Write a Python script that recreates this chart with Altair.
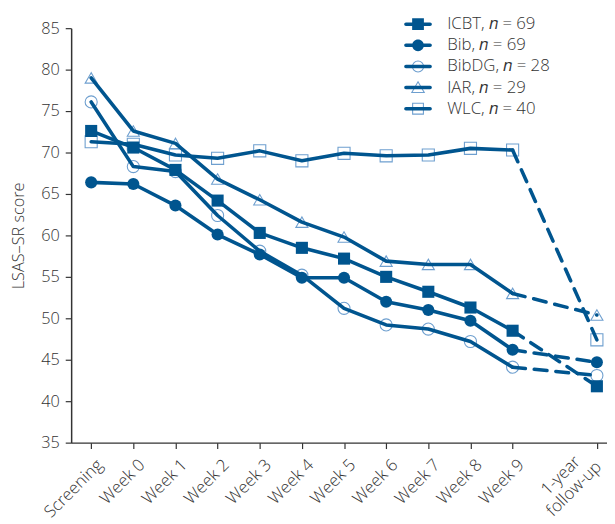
import altair as alt
import pandas as pd

# ---------------- data ----------------
GROUPS = ["ICBT", "Bib", "BibDG", "IAR", "WLC"]
N_SIZES = [69, 69, 28, 29, 40]
X_POS = [0, 1, 2, 3, 4, 5, 6, 7, 8, 9, 10, 12]
X_LABELS = ["Screening", "Week 0", "Week 1", "Week 2", "Week 3", "Week 4",
            "Week 5", "Week 6", "Week 7", "Week 8", "Week 9", "\n1-year\nfollow-up"]

ICBT = [72.6, 70.6, 67.9, 64.2, 60.3, 58.5, 57.2, 55.0, 53.2, 51.3, 48.5, 41.8]
BIB = [66.4, 66.2, 63.6, 60.1, 57.7, 54.9, 54.9, 52.0, 51.0, 49.7, 46.2, 44.7]
BIBDG = [76.1, 68.3, 67.7, 62.4, 58.1, 55.2, 51.2, 49.2, 48.7, 47.2, 44.1, 43.1]
IAR = [79.0, 72.6, 71.1, 66.8, 64.3, 61.6, 59.8, 56.9, 56.5, 56.5, 53.0, 50.4]
WLC = [71.3, 71.0, 69.7, 69.3, 70.2, 69.0, 69.9, 69.6, 69.7, 70.5, 70.3, 47.4]
SERIES = [ICBT, BIB, BIBDG, IAR, WLC]

Y_TICKS = [35, 40, 45, 50, 55, 60, 65, 70, 75, 80, 85]

# ---------------- styling ----------------
DARK = "#00558f"
LIGHT = "#6e9fcf"
FONT = "Open Sans"
FW = 300
TXT = "#333333"

LABELS = [f"{g}, \U0001D45B = {n}" for g, n in zip(GROUPS, N_SIZES)]
FILLED = ["ICBT", "Bib"]
OPEN = ["BibDG", "IAR", "WLC"]

rows = []
for g, lab, vals in zip(GROUPS, LABELS, SERIES):
    for x, v in zip(X_POS, vals):
        rows.append({"group": g, "label": lab, "x": x, "y": v})
df = pd.DataFrame(rows)

# label expression built from the label list
arr = [""] * (max(X_POS) + 1)
for p, l in zip(X_POS, X_LABELS):
    if "\n" in l:
        arr[p] = "[" + ",".join("'" + s + "'" for s in l.split("\n")) + "]"
    else:
        arr[p] = "'" + l + "'"
label_expr = "[" + ",".join(a if a else "''" for a in arr) + "][datum.value]"
LAST = X_POS[-1]

x_axis = alt.Axis(
    values=X_POS, labelExpr=label_expr, labelAngle=-45,
    labelAlign=alt.condition(f"datum.value == {LAST}", alt.value("center"), alt.value("right")),
    labelOffset=alt.condition(f"datum.value == {LAST}", alt.value(-56), alt.value(3)),
    labelBaseline="top", tickSize=6, labelPadding=8,
    grid=False, title=None, labelFont=FONT, labelFontSize=17, labelFontWeight=FW,
    labelColor=TXT, domainColor=TXT, tickColor=TXT, domainWidth=1.5,
    tickWidth=1.2, labelOverlap=False, labelFlush=False)
y_axis = alt.Axis(values=Y_TICKS, tickSize=6, labelPadding=6, grid=False,
                  title="LSAS\u2013SR score", titleFont=FONT, titleFontSize=16.5,
                  titleFontWeight=FW, titleColor=TXT, titlePadding=14,
                  labelFont=FONT, labelFontSize=16.5, labelFontWeight=FW, labelColor=TXT,
                  domainColor=TXT, tickColor=TXT, domainWidth=1.5, tickWidth=1.2)

x_enc = alt.X("x:Q", scale=alt.Scale(domain=[-0.475, 12.24], nice=False, zero=False), axis=x_axis)
y_enc = alt.Y("y:Q", scale=alt.Scale(domain=[35, 85], nice=False, zero=False), axis=y_axis)

base = alt.Chart(df)

open_pts = base.transform_filter(
    alt.FieldOneOfPredicate(field="group", oneOf=OPEN)
).mark_point(filled=False, color=LIGHT, strokeWidth=1.1, size=150, opacity=1).encode(
    x=x_enc, y=y_enc,
    shape=alt.Shape("group:N", scale=alt.Scale(domain=OPEN, range=["circle", "triangle-up", "square"]),
                    legend=None),
)

solid = base.transform_filter("datum.x <= 10").mark_line(
    color=DARK, strokeWidth=3.6, strokeCap="round", strokeJoin="round"
).encode(x=x_enc, y=y_enc, detail="group:N", order="x:Q")

dashed = base.transform_filter("datum.x >= 10").mark_line(
    color=DARK, strokeWidth=3.6, strokeCap="round", strokeDash=[13, 9]
).encode(x=x_enc, y=y_enc, detail="group:N", order="x:Q")

filled_pts = base.transform_filter(
    alt.FieldOneOfPredicate(field="group", oneOf=FILLED)
).mark_point(filled=True, color=DARK, size=150, opacity=1, strokeWidth=0).encode(
    x=x_enc, y=y_enc,
    shape=alt.Shape("group:N", scale=alt.Scale(domain=FILLED, range=["square", "circle"]),
                    legend=None),
)

# legend symbols (unit paths, scaled by symbol size)
LINE = "M-1.75,-0.25H1.75A0.25,0.25 0 0 1 1.75,0.25H-1.75A0.25,0.25 0 0 1 -1.75,-0.25Z"
SQ_F = "M-0.85,-0.85H0.85V0.85H-0.85Z"
CI_F = "M-0.85,0A0.85,0.85 0 1 1 0.85,0A0.85,0.85 0 1 1 -0.85,0Z"
CI_O = "M-0.8,0A0.8,0.8 0 1 1 0.8,0A0.8,0.8 0 1 1 -0.8,0Z"
TR_O = "M0,-0.85L0.9,0.7H-0.9Z"
SQ_O = "M-0.78,-0.78H0.78V0.78H-0.78Z"
EMPTY = "M0,0"

leg_common = dict(orient="none", legendX=343, legendY=-12.5, symbolSize=196, padding=0,
                  rowPadding=3.4, title=None, labelFont=FONT, labelFontSize=17,
                  labelFontWeight=FW, labelColor=TXT, labelOffset=21, labelLimit=300)

legend_open = base.transform_filter("false").mark_point(
    filled=False, color=LIGHT, strokeWidth=1.1, opacity=1
).encode(
    x=x_enc, y=y_enc,
    shape=alt.Shape("label:N", scale=alt.Scale(domain=LABELS, range=[EMPTY, EMPTY, CI_O, TR_O, SQ_O]),
                    legend=alt.Legend(symbolStrokeWidth=1.1, labelExpr="''", **leg_common)),
)

legend_main = base.transform_filter("false").mark_point(
    filled=True, color=DARK, strokeWidth=0, opacity=1
).encode(
    x=x_enc, y=y_enc,
    shape=alt.Shape("label:N", scale=alt.Scale(domain=LABELS,
                                              range=[LINE + SQ_F, LINE + CI_F, LINE, LINE, LINE]),
                    legend=alt.Legend(symbolStrokeWidth=0, **leg_common)),
)

chart = alt.layer(
    open_pts, solid, dashed, filled_pts, legend_open, legend_main
).resolve_scale(shape="independent").properties(
    width=543, height=420, autosize="none",
    padding={"left": 64, "top": 17, "right": 0, "bottom": 79},
).configure_view(stroke=None)

chart.save("out.html", embed_options={"renderer": "svg", "actions": False})
